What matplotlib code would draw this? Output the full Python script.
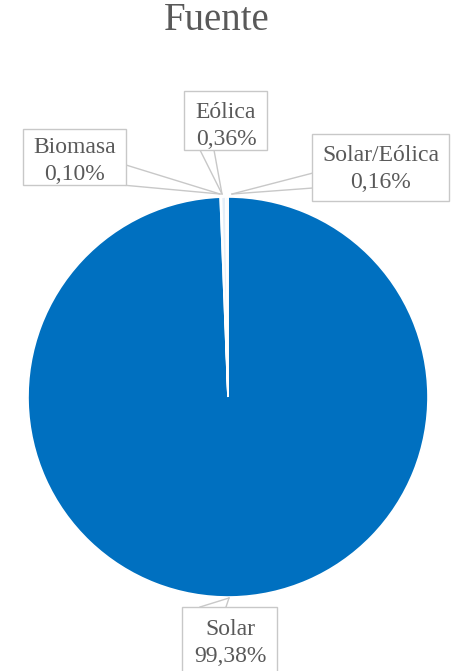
import matplotlib
matplotlib.use("Agg")
import matplotlib.pyplot as plt

# share of each energy source
sources = ["Solar", "Biomasa", "Eólica", "Solar/Eólica"]
shares = [99.38, 0.10, 0.36, 0.16]
label_text = ["Solar\n99,38%", "Biomasa\n0,10%", "Eólica\n0,36%", "Solar/Eólica\n0,16%"]

plt.rcParams["font.family"] = "serif"
plt.rcParams["font.serif"] = ["Liberation Serif", "DejaVu Serif"]

W, H = 452, 671
fig = plt.figure(figsize=(W / 100, H / 100), dpi=100)
ax = fig.add_axes([0, 0, 1, 1])

cx, cy, r = 228, H - 397, 200
colors = ["#0070c0", "#e4eef8", "#e4eef8", "#e4eef8"]
ax.pie(shares, colors=colors, startangle=90, counterclock=False,
       center=(cx, cy), radius=r, frame=True,
       wedgeprops=dict(edgecolor="white", linewidth=1.2))
ax.set_xlim(0, W)
ax.set_ylim(0, H)
ax.set_aspect("equal")
ax.axis("off")

grey = "#595959"
line_c = "#c8c8c8"

ax.text(217, H - 21, "Fuente", ha="center", va="center", fontsize=28,
        color=grey)

# label boxes: (center x, center y in pixels from top, box w, box h)
boxes = {
    "Biomasa": (75, 157, 103, 56),
    "Eólica": (226, 120, 83, 59),
    "Solar/Eólica": (381, 168, 137, 67),
    "Solar": (230, 645, 95, 76),
}
# where the wedge of each callout leaves the box and where it points
tips = {
    "Biomasa": ((126, 165), (122, 185), (220, 194)),
    "Eólica": ((200, 150), (214, 150), (222, 194)),
    "Solar/Eólica": ((313, 173), (313, 188), (232, 194)),
    "Solar": ((200, 607), (226, 607), (229, 598)),
}
text_y = {"Biomasa": 161, "Eólica": 126, "Solar/Eólica": 169, "Solar": 643}

for name, txt in zip(sources, label_text):
    bx, by, bw, bh = boxes[name]
    rect = plt.Rectangle((bx - bw / 2, H - by - bh / 2), bw, bh,
                         facecolor="white", edgecolor=line_c, linewidth=1.0,
                         zorder=4)
    ax.add_patch(rect)
    a, b, t = tips[name]
    for p in (a, b):
        ax.plot([p[0], t[0]], [H - p[1], H - t[1]], color=line_c,
                linewidth=1.0, zorder=3)
    ax.text(bx, H - text_y[name], txt, ha="center", va="center", fontsize=17,
            color=grey, linespacing=1.4, zorder=5)

fig.savefig("out.png", dpi=100)
